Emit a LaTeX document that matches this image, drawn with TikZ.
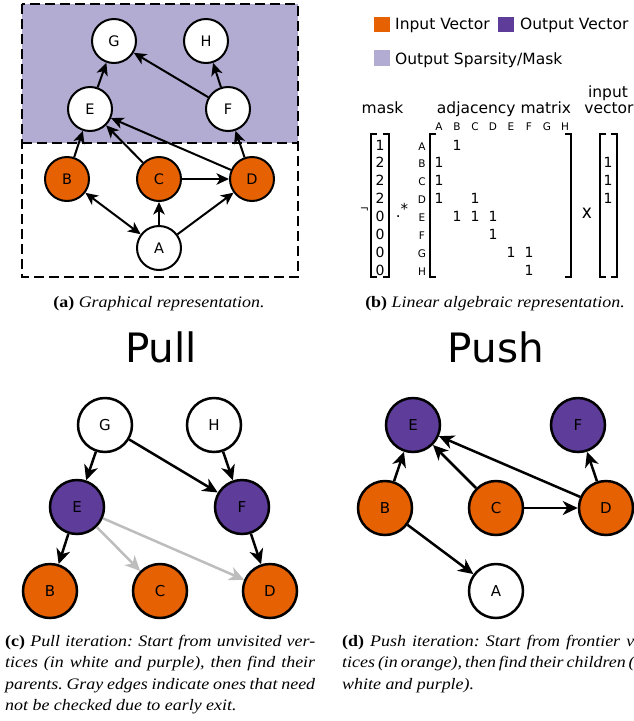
\documentclass[tikz,border=0pt]{standalone}
\usepackage{fontspec}
\newfontfamily\dv{DejaVu Sans}
\newfontfamily\capserif[FakeStretch=1.12]{Liberation Serif}
\usetikzlibrary{arrows.meta}
\definecolor{orng}{HTML}{E66101}
\definecolor{purp}{HTML}{5E3C99}
\definecolor{lav}{HTML}{B2ABD2}
\definecolor{grayedge}{HTML}{BDBDBD}
\newcommand\mycapfont{\capserif\fontsize{16}{19}\selectfont\frenchspacing}
\newcommand\mycapline[2][310pt]{\makebox[#1][s]{#2}}
\begin{document}
\begin{tikzpicture}[x=1pt,y=-1pt,
  sv/.style={circle,draw=black,line width=2pt,minimum size=44pt,inner sep=0pt,font={\dv\fontsize{14.5}{16}\selectfont}},
  bv/.style={circle,draw=black,line width=2.5pt,minimum size=54pt,inner sep=0pt,font={\dv\fontsize{15}{17}\selectfont}},
  wh/.style={fill=white}, org/.style={fill=orng}, pur/.style={fill=purp},
  sarr/.style={line width=2pt,-{Stealth[length=12.5pt,width=11.5pt,inset=3.5pt]}},
  sdarr/.style={line width=2pt,{Stealth[length=12.5pt,width=11.5pt,inset=3.5pt]}-{Stealth[length=12.5pt,width=11.5pt,inset=3.5pt]}},
  barr/.style={line width=2.5pt,-{Stealth[length=15pt,width=14pt,inset=4.5pt]}},
  garr/.style={barr,draw=grayedge},
  txt/.style={inner sep=0pt,anchor=base},
  lgtxt/.style={inner sep=0pt,anchor=base west,font={\dv\fontsize{15.5}{18}\selectfont}},
  mtxt/.style={inner sep=0pt,anchor=base,font={\dv\fontsize{15.5}{18}\selectfont}},
  smalltxt/.style={inner sep=0pt,anchor=base,font={\dv\fontsize{10.5}{12}\selectfont}},
  ent/.style={inner sep=0pt,anchor=base,font={\dv\fontsize{14}{16}\selectfont}},
  brk/.style={line width=2pt},
  dbox/.style={line width=2.3pt,dash pattern=on 10pt off 5pt},
  capl/.style={inner sep=0pt,anchor=base west,font=\mycapfont},
  capc/.style={inner sep=0pt,anchor=base,font=\mycapfont},
  ttl/.style={inner sep=0pt,anchor=base,font={\dv\fontsize{40.5}{44}\selectfont}}
]
\useasboundingbox (0,0) rectangle (634,721);
\clip (0,0) rectangle (634,721);

% ---------- (a) graphical representation ----------
\fill[lav] (22,4) rectangle (298,143);
\draw[dbox] (22,4) rectangle (298,277);
\draw[dbox] (22,143) -- (298,143);

\node[sv,wh]  (aG) at (114,41)  {G};
\node[sv,wh]  (aH) at (206,41)  {H};
\node[sv,wh]  (aE) at (90,109)  {E};
\node[sv,wh]  (aF) at (228,109) {F};
\node[sv,org] (aB) at (67,179)  {B};
\node[sv,org] (aC) at (159,179) {C};
\node[sv,org] (aD) at (252,179) {D};
\node[sv,wh]  (aA) at (159,248) {A};

\draw[sarr] (aE) -- (aG);
\draw[sarr] (aF) -- (aG);
\draw[sarr] (aF) -- (aH);
\draw[sarr] (aB) -- (aE);
\draw[sarr] (aC) -- (aE);
\draw[sarr] (aD) -- (aE);
\draw[sarr] (aD) -- (aF);
\draw[sarr] (aC) -- (aD);
\draw[sarr] (aA) -- (aC);
\draw[sarr] (aA) -- (aD);
\draw[sdarr] (aB) -- (aA);

\node[capc] (capa) at (159,307) {\textbf{(a)} \textit{Graphical representation.}};

% ---------- (b) legend ----------
\fill[orng] (374,17) rectangle (390,32);
\node[lgtxt] (lg1) at (395,29) {Input Vector};
\fill[purp] (498,17) rectangle (514,32);
\node[lgtxt] (lg2) at (520,29) {Output Vector};
\fill[lav] (374,50) rectangle (390,66);
\node[lgtxt] (lg3) at (395,64) {Output Sparsity/Mask};

% ---------- (b) linear algebra ----------
\node[mtxt] (lmask) at (382.5,113) {mask};
\node[mtxt] (ladj) at (504,113) {adjacency matrix};
\node[mtxt] (lin1) at (608,97) {input};
\node[mtxt] (lin2) at (609,113) {vector};

\foreach \l [count=\i from 0] in {A,B,C,D,E,F,G,H}{
  \node[smalltxt] (col\l) at ({439+18*\i},130) {\l};
  \node[smalltxt] (row\l) at (422,{150+17.86*\i}) {\l};
}
\foreach \r/\c in {0/1,1/0,2/0,3/0,3/2,4/1,4/2,4/3,5/3,6/4,6/5,7/5}{
  \node[ent] (m\r\c) at ({439+18*\c},{150+17.86*\r}) {1};
}
\foreach \v [count=\i from 0] in {1,2,2,2,0,0,0,0}{
  \node[ent] (mk\i) at (380,{150+17.86*\i}) {\v};
}
\foreach \i in {1,2,3}{
  \node[ent] (iv\i) at (608,{150+17.86*\i}) {1};
}
% brackets
\draw[brk] (377,134) -- (371,134) -- (371,277) -- (377,277);
\draw[brk] (383,134) -- (389,134) -- (389,277) -- (383,277);
\draw[brk] (436,134) -- (430,134) -- (430,277) -- (436,277);
\draw[brk] (565,134) -- (571,134) -- (571,277) -- (565,277);
\draw[brk] (606,134) -- (600,134) -- (600,277) -- (606,277);
\draw[brk] (611,134) -- (617,134) -- (617,277) -- (611,277);

\node[txt,font={\dv\fontsize{11}{12}\selectfont}] (neg) at (364.5,212) {¬};
\node[txt,font={\dv\fontsize{15}{16}\selectfont}] (emul) at (402,217) {.\raisebox{3pt}{*}};
\node[txt,font={\dv\fontsize{17}{18}\selectfont}] (times) at (587,218) {\scalebox{1}[1.12]{x}};

\node[capc] (capb) at (495,307) {\textbf{(b)} \textit{Linear algebraic representation.}};

% ---------- titles ----------
\node[ttl] (tpull) at (161,362) {Pull};
\node[ttl] (tpush) at (496,362) {Push};

% ---------- (c) pull ----------
\node[bv,wh]  (pG) at (105,425) {G};
\node[bv,wh]  (pH) at (214,425) {H};
\node[bv,pur] (pE) at (77,507)  {E};
\node[bv,pur] (pF) at (242,507) {F};
\node[bv,org] (pB) at (50,591)  {B};
\node[bv,org] (pC) at (160,591) {C};
\node[bv,org] (pD) at (270,591) {D};

\draw[garr] (pE) -- (pC);
\draw[garr] (pE) -- (pD);
\draw[barr] (pG) -- (pE);
\draw[barr] (pG) -- (pF);
\draw[barr] (pH) -- (pF);
\draw[barr] (pE) -- (pB);
\draw[barr] (pF) -- (pD);

\node[capl] (c1) at (5,646)   {\mycapline{\textbf{(c)} \textit{Pull iteration: Start from unvisited ver-}}};
\node[capl] (c2) at (5,667.5) {\mycapline{\textit{tices (in white and purple), then find their}}};
\node[capl] (c3) at (5,689)   {\mycapline{\textit{parents. Gray edges indicate ones that need}}};
\node[capl] (c4) at (5,710.5) {\textit{not be checked due to early exit.}};

% ---------- (d) push ----------
\node[bv,pur] (qE) at (413,425) {E};
\node[bv,pur] (qF) at (578,425) {F};
\node[bv,org] (qB) at (385,508) {B};
\node[bv,org] (qC) at (496,508) {C};
\node[bv,org] (qD) at (606,508) {D};
\node[bv,wh]  (qA) at (496,591) {A};

\draw[barr] (qB) -- (qE);
\draw[barr] (qC) -- (qE);
\draw[barr] (qD) -- (qE);
\draw[barr] (qD) -- (qF);
\draw[barr] (qC) -- (qD);
\draw[barr] (qB) -- (qA);

\node[capl] (d1) at (342,646)   {\mycapline[292pt]{\textbf{(d)} \textit{Push iteration: Start from frontier v}}};
\node[capl] (d2) at (342,667.5) {\mycapline[291pt]{\textit{tices (in orange), then find their children (}}};
\node[capl] (d3) at (342,689)   {\textit{white and purple).}};
\end{tikzpicture}
\end{document}
